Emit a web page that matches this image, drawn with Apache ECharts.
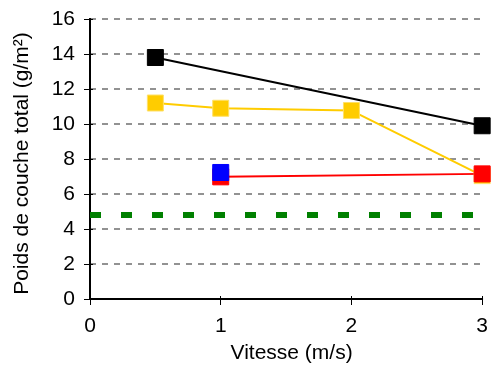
<!DOCTYPE html>
<html><head><meta charset="utf-8">
<script src="https://cdn.jsdelivr.net/npm/echarts@6/dist/echarts.min.js"></script>
<style>html,body{margin:0;padding:0;background:#fff}#c{width:491px;height:370px}</style>
</head><body><div id="c"></div>
<script>
const blackX = [0.5, 3];
const blackY = [13.8, 9.9];
const yellowX = [0.5, 1, 2, 3];
const yellowY = [11.2, 10.9, 10.77, 7.05];
const redX = [1, 3];
const redY = [6.98, 7.15];
const blueX = [1];
const blueY = [7.23];
const greenX = [0, 3];
const greenY = [4.8, 4.8];
const xTicks = [0, 1, 2, 3];
const yTicks = [0, 2, 4, 6, 8, 10, 12, 14, 16];
const xTitle = 'Vitesse (m/s)';
const yTitle = 'Poids de couche total (g/m²)';

const zip = (xs, ys) => xs.map((x, i) => [x, ys[i]]);
const font = 'Liberation Sans, Arial, sans-serif';
const FS = 21;
const chart = echarts.init(document.getElementById('c'));
const mk = (color, border) => ({
  type: 'line', symbol: 'rect', symbolSize: 16, animation: false,
  lineStyle: { color: color, width: 2 },
  itemStyle: { color: color, borderColor: border || color, borderWidth: 1 }
});
const xMin = xTicks[0], xMax = xTicks[xTicks.length - 1];
const yMin = yTicks[0], yMax = yTicks[yTicks.length - 1];
chart.setOption({
  animation: false,
  grid: { left: 90, right: 8, top: 19, bottom: 71 },
  xAxis: [{
    type: 'value', min: xMin, max: xMax, interval: 1,
    name: xTitle, nameLocation: 'middle', nameGap: 44,
    nameTextStyle: { fontFamily: font, fontSize: FS, color: '#000', padding: [0, 0, 0, 11] },
    axisLine: { show: true, onZero: false, lineStyle: { color: '#000', width: 2 } },
    axisTick: { show: true, length: 6, lineStyle: { color: '#000', width: 1 } },
    axisLabel: { fontFamily: font, fontSize: FS, color: '#000', margin: 17 },
    splitLine: { show: false }
  }, {
    type: 'value', min: xMin, max: xMax, interval: 1, position: 'bottom',
    axisLine: { show: false }, axisLabel: { show: false }, splitLine: { show: false },
    axisTick: { show: true, inside: true, length: 3, lineStyle: { color: '#000', width: 1 } }
  }],
  yAxis: [{
    type: 'value', min: yMin, max: yMax, interval: 2,
    name: yTitle, nameLocation: 'middle', nameGap: 57,
    nameTextStyle: { fontFamily: font, fontSize: FS, color: '#000', padding: [0, 9, 0, 0] },
    axisLine: { show: true, lineStyle: { color: '#000', width: 2 } },
    axisTick: { show: true, length: 6, lineStyle: { color: '#000', width: 1 } },
    axisLabel: { fontFamily: font, fontSize: FS, color: '#000', margin: 15 },
    splitLine: { show: true, lineStyle: { color: '#6f6f6f', width: 1.5, type: [6, 6] } }
  }, {
    type: 'value', min: yMin, max: yMax, interval: 2, position: 'right',
    axisLine: { show: true, lineStyle: { color: '#000', width: 2 } },
    axisTick: { show: false }, axisLabel: { show: false }, splitLine: { show: false }
  }, {
    type: 'value', min: yMin, max: yMax, interval: 2, position: 'left',
    axisLine: { show: false }, axisLabel: { show: false }, splitLine: { show: false },
    axisTick: { show: true, inside: true, length: 3, lineStyle: { color: '#000', width: 1 } }
  }],
  series: [
    Object.assign(mk('#000000'), { data: zip(blackX, blackY) }),
    Object.assign(mk('#ffcc00', '#ffe066'), { data: zip(yellowX, yellowY) }),
    Object.assign(mk('#ff0000'), { data: zip(redX, redY) }),
    Object.assign(mk('#0000ff'), { data: zip(blueX, blueY) }),
    { type: 'line', symbol: 'none', data: zip(greenX, greenY),
      lineStyle: { color: '#008000', width: 6, type: [11, 20], cap: 'butt' } }
  ]
});
</script></body></html>
